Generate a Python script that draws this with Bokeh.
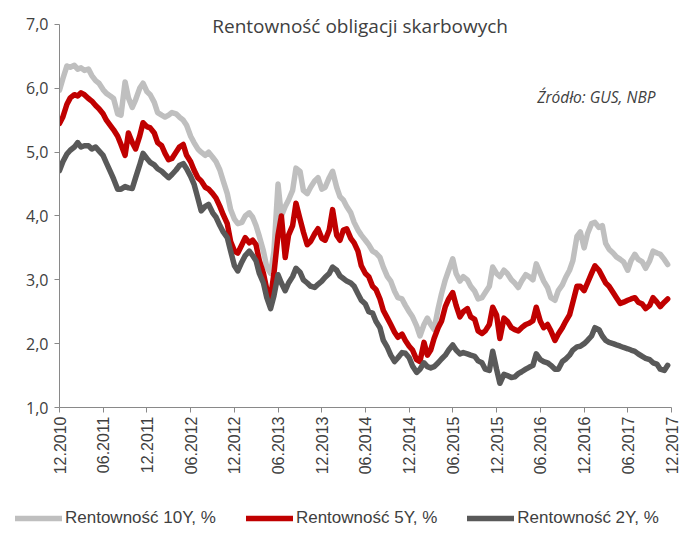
import pandas as pd
from bokeh.plotting import figure
from bokeh.layouts import column
from bokeh.models import (Legend, LegendItem, Label, FixedTicker, Range1d,
                          DatetimeTickFormatter, ColumnDataSource)
from bokeh.embed import file_html
from bokeh.resources import INLINE

# ---------------- data (semi-monthly readings, Dec 2010 - Nov 2017) ----------------
start_date = "2010-12-01"

y10 = [5.97, 6.15,
       6.35, 6.33, 6.36, 6.30, 6.32, 6.28, 6.30, 6.20, 6.12, 6.08, 5.98, 5.92,
       5.88, 5.84, 5.60, 5.58, 6.10, 5.85, 5.70, 5.82, 6.00, 6.08, 5.95, 5.90,
       5.78, 5.62, 5.58, 5.55, 5.58, 5.62, 5.60, 5.55, 5.50, 5.42, 5.25, 5.15,
       5.05, 5.00, 4.95, 5.00, 4.92, 4.85, 4.72, 4.55, 4.35, 4.10, 3.95, 3.88,
       3.90, 4.00, 4.05, 3.98, 3.85, 3.68, 3.45, 3.20, 3.10, 3.45, 4.50, 4.00,
       4.15, 4.25, 4.40, 4.75, 4.70, 4.40, 4.35, 4.45, 4.55, 4.60, 4.42, 4.45,
       4.60, 4.70, 4.45, 4.30, 4.25, 4.15, 4.05, 3.90, 3.78, 3.70, 3.62, 3.55,
       3.45, 3.42, 3.35, 3.20, 3.05, 2.98, 2.82, 2.72, 2.70, 2.60, 2.50, 2.42,
       2.28, 2.12, 2.30, 2.40, 2.30, 2.22, 2.55, 2.78, 3.00, 3.15, 3.33, 3.10,
       2.98, 3.05, 3.00, 2.90, 2.82, 2.70, 2.72, 2.80, 2.90, 3.20, 3.10, 3.05,
       3.15, 3.10, 3.00, 2.95, 2.88, 2.98, 3.08, 3.05, 3.00, 3.25, 3.10, 2.98,
       2.88, 2.72, 2.68, 2.83, 2.92, 3.04, 3.15, 3.30, 3.68, 3.75, 3.50, 3.72,
       3.88, 3.90, 3.82, 3.85, 3.57, 3.48, 3.42, 3.36, 3.32, 3.28,
       3.15, 3.30, 3.40, 3.32, 3.28, 3.18, 3.30, 3.45, 3.42, 3.40, 3.32, 3.24]

y5 = [5.45, 5.55,
      5.75, 5.85, 5.90, 5.88, 5.93, 5.90, 5.84, 5.80, 5.73, 5.68, 5.60, 5.50,
      5.42, 5.35, 5.25, 5.12, 4.95, 5.30, 5.15, 5.05, 5.25, 5.46, 5.40, 5.38,
      5.30, 5.15, 5.10, 4.98, 4.88, 4.90, 5.00, 5.08, 5.12, 4.95, 4.85, 4.72,
      4.60, 4.55, 4.45, 4.42, 4.35, 4.28, 4.15, 4.02, 3.88, 3.60, 3.45, 3.42,
      3.55, 3.66, 3.58, 3.62, 3.55, 3.30, 3.10, 2.85, 2.72, 3.10, 3.70, 4.00,
      3.35, 3.70, 3.85, 4.20, 3.95, 3.75, 3.55, 3.60, 3.72, 3.80, 3.65, 3.62,
      3.78, 4.10, 3.70, 3.62, 3.78, 3.80, 3.65, 3.58, 3.45, 3.22, 3.10, 3.05,
      2.90, 2.85, 2.70, 2.52, 2.40, 2.30, 2.18, 2.10, 2.15, 2.05, 1.96, 1.90,
      1.75, 1.72, 2.02, 1.82, 1.90, 2.08, 2.25, 2.35, 2.58, 2.70, 2.80, 2.60,
      2.42, 2.50, 2.55, 2.42, 2.38, 2.20, 2.16, 2.20, 2.30, 2.57, 2.45, 2.08,
      2.40, 2.35, 2.25, 2.22, 2.20, 2.25, 2.30, 2.32, 2.36, 2.57, 2.35, 2.25,
      2.30, 2.20, 2.05, 2.15, 2.25, 2.35, 2.45, 2.65, 2.90, 2.90, 2.83, 2.95,
      3.10, 3.22, 3.15, 3.05, 2.95, 2.90, 2.80, 2.72, 2.63, 2.65,
      2.68, 2.70, 2.72, 2.65, 2.62, 2.55, 2.60, 2.72, 2.65, 2.58, 2.65, 2.70]

y2 = [4.71, 4.85,
      4.97, 5.03, 5.08, 5.15, 5.08, 5.10, 5.10, 5.05, 5.08, 5.02, 4.95, 4.83,
      4.70, 4.58, 4.42, 4.42, 4.46, 4.44, 4.43, 4.60, 4.80, 4.98, 4.90, 4.84,
      4.80, 4.74, 4.70, 4.65, 4.60, 4.65, 4.72, 4.79, 4.82, 4.74, 4.62, 4.50,
      4.28, 4.08, 4.15, 4.18, 4.05, 3.98, 3.85, 3.75, 3.66, 3.45, 3.22, 3.14,
      3.28, 3.38, 3.45, 3.38, 3.30, 3.10, 2.95, 2.72, 2.55, 2.75, 3.08, 2.95,
      2.83, 2.95, 3.05, 3.18, 3.12, 3.00, 2.95, 2.90, 2.88, 2.93, 2.98, 3.04,
      3.10, 3.20, 3.15, 3.06, 3.02, 2.98, 2.95, 2.90, 2.78, 2.68, 2.62, 2.50,
      2.48, 2.35, 2.25, 2.05, 1.94, 1.82, 1.72, 1.78, 1.86, 1.85, 1.78, 1.65,
      1.55, 1.60, 1.70, 1.64, 1.62, 1.64, 1.70, 1.76, 1.82, 1.90, 1.98, 1.90,
      1.84, 1.86, 1.84, 1.82, 1.80, 1.73, 1.70, 1.60, 1.58, 1.88, 1.60, 1.38,
      1.52, 1.50, 1.47, 1.48, 1.53, 1.56, 1.60, 1.63, 1.66, 1.84, 1.75, 1.72,
      1.70, 1.66, 1.60, 1.60, 1.72, 1.76, 1.82, 1.90, 1.95, 1.96, 2.00, 2.05,
      2.12, 2.25, 2.22, 2.12, 2.05, 2.02, 2.00, 1.98, 1.96, 1.94,
      1.92, 1.90, 1.88, 1.84, 1.80, 1.77, 1.75, 1.70, 1.68, 1.60, 1.58, 1.66]

x_tick_labels = ["12.2010", "06.2011", "12.2011", "06.2012", "12.2012",
                 "06.2013", "12.2013", "06.2014", "12.2014", "06.2015",
                 "12.2015", "06.2016", "12.2016", "06.2017", "12.2017"]
y_ticks = [1, 2, 3, 4, 5, 6, 7]
y_tick_labels = ["1,0", "2,0", "3,0", "4,0", "5,0", "6,0", "7,0"]

series_cols = ["y10", "y5", "y2"]
series_names = ["Rentowność 10Y, %", "Rentowność 5Y, %", "Rentowność 2Y, %"]
series_colors = ["#BFBFBF", "#C00000", "#595959"]

title_text = "Rentowność obligacji skarbowych"
source_text = "Źródło: GUS, NBP"

assert len(y10) == len(y5) == len(y2)

dates = pd.date_range(start=start_date, periods=len(y10), freq="SMS")
src = ColumnDataSource(dict(date=dates, y10=y10, y5=y5, y2=y2))

tick_dates = pd.to_datetime(x_tick_labels, format="%m.%Y")
tick_ms = [d.timestamp() * 1000.0 for d in tick_dates]

TXT = "#404040"
AX = "#898989"
LW = 5.5

# ---------------- main chart ----------------
# frame extends a little above 7,0 so that the title is not clipped
Y_TOP = 7.25
p = figure(width=684, height=480,
           x_axis_type="datetime",
           x_range=Range1d(tick_ms[0], tick_ms[-1]),
           y_range=Range1d(y_ticks[0], Y_TOP),
           output_backend="svg", toolbar_location=None,
           min_border_left=59, min_border_right=13,
           min_border_top=8, min_border_bottom=73)
p.outline_line_color = None
p.grid.visible = False
p.background_fill_color = "white"
p.border_fill_color = "white"

for col, colr in zip(series_cols, series_colors):
    p.line("date", col, source=src, line_color=colr, line_width=LW,
           line_join="round", line_cap="round")

# x axis
xa = p.xaxis[0]
xa.ticker = FixedTicker(ticks=tick_ms)
fmt = "%m.%Y"
xa.formatter = DatetimeTickFormatter(milliseconds=fmt, seconds=fmt, minsec=fmt,
                                     minutes=fmt, hourmin=fmt, hours=fmt,
                                     days=fmt, months=fmt, years=fmt)
xa.major_label_orientation = 3.14159265 / 2
xa.major_label_text_font = "Liberation Sans"
xa.major_label_text_font_size = "16px"
xa.major_label_text_color = TXT
xa.major_label_standoff = 4
xa.axis_line_color = AX
xa.major_tick_line_color = AX
xa.major_tick_out = 5
xa.major_tick_in = 0
xa.minor_tick_line_color = None

# y axis
ya = p.yaxis[0]
ya.ticker = FixedTicker(ticks=y_ticks)
ya.bounds = (y_ticks[0], y_ticks[-1])
ya.major_label_overrides = {t: l for t, l in zip(y_ticks, y_tick_labels)}
ya.major_label_text_font = "Open Sans"
ya.major_label_text_font_size = "16px"
ya.major_label_text_color = TXT
ya.major_label_standoff = 6
ya.axis_line_color = AX
ya.major_tick_line_color = AX
ya.major_tick_out = 5
ya.major_tick_in = 0
ya.minor_tick_line_color = None

# title and source as labels inside the plot
p.add_layout(Label(x=pd.Timestamp("2014-05-10"), y=6.98, text=title_text,
                   text_align="center", text_baseline="middle",
                   text_font="Open Sans", text_font_size="19px",
                   text_color=TXT))
p.add_layout(Label(x=pd.Timestamp("2017-09-25"), y=5.86, text=source_text,
                   text_align="right", text_baseline="middle",
                   text_font="Open Sans", text_font_size="15.5px",
                   text_font_style="italic", text_color=TXT))

# ---------------- legend strip below the chart ----------------
pl = figure(width=684, height=63,
            x_range=Range1d(tick_ms[0], tick_ms[-1]), y_range=Range1d(100, 101),
            x_axis_location=None, y_axis_location=None,
            output_backend="svg", toolbar_location=None,
            min_border_left=0, min_border_right=0,
            min_border_top=0, min_border_bottom=0)
try:
    pl.frame_align = False
except Exception:
    pass
pl.outline_line_color = None
pl.grid.visible = False
pl.background_fill_color = "white"
pl.border_fill_color = "white"

leg_renderers = []
for col, colr in zip(series_cols, series_colors):
    r = pl.line("date", col, source=src, line_color=colr, line_width=LW,
                line_cap="round")
    leg_renderers.append(r)

legend = Legend(items=[LegendItem(label=n, renderers=[r])
                       for n, r in zip(series_names, leg_renderers)],
                orientation="horizontal", location=(15, 15),
                glyph_width=47, glyph_height=16, label_standoff=3,
                spacing=30, padding=0, margin=0,
                border_line_color=None, background_fill_alpha=0,
                label_text_font="Liberation Sans", label_text_font_size="17px",
                label_text_color=TXT)
pl.add_layout(legend, "center")

layout = column(p, pl, spacing=0)
open("out.html", "w").write(file_html(layout, INLINE))
